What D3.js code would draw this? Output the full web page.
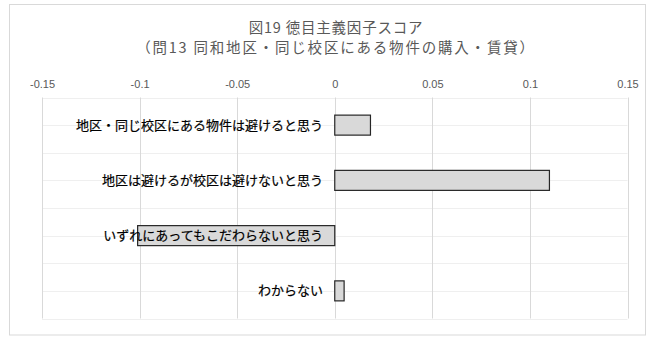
<!DOCTYPE html>
<html>
<head>
<meta charset="utf-8">
<script src="https://cdn.jsdelivr.net/npm/d3@7"></script>
<style>
  html, body { margin: 0; padding: 0; background: #fff; }
  svg { display: block; }
</style>
</head>
<body>
<svg id="chart" width="653" height="338"></svg>
<script>
// Factor score by response category
const categories = [
  "地区・同じ校区にある物件は避けると思う",
  "地区は避けるが校区は避けないと思う",
  "いずれにあってもこだわらないと思う",
  "わからない"
];
const scores = [0.0183, 0.110, -0.101, 0.0048];
const tickValues = [-0.15, -0.1, -0.05, 0, 0.05, 0.1, 0.15];
const titleLines = ["図19 徳目主義因子スコア", "（問13 同和地区・同じ校区にある物件の購入・賃貸）"];

const svg = d3.select("#chart");
const plot = { left: 42, right: 627.5, top: 97.5, bottom: 318.5 };
const jp = "'Noto Sans CJK JP', 'Noto Sans', sans-serif";

// Chart frame
svg.append("rect")
  .attr("x", 9.5).attr("y", 4.5)
  .attr("width", 636).attr("height", 330.5)
  .attr("fill", "#fff").attr("stroke", "#d9d9d9").attr("stroke-width", 1);

const x = d3.scaleLinear().domain([-0.15, 0.15]).range([plot.left, plot.right]);
const y = d3.scaleBand().domain(categories).range([plot.top, plot.bottom]).paddingInner(0).paddingOuter(0);

// Horizontal guide lines at band edges and centers
const hLines = [];
categories.forEach(c => {
  hLines.push(y(c));
  hLines.push(y(c) + y.bandwidth() / 2);
});
hLines.push(plot.bottom);
svg.append("g").selectAll("line").data(hLines).join("line")
  .attr("x1", plot.left).attr("x2", plot.right)
  .attr("y1", d => Math.round(d) + 0.5).attr("y2", d => Math.round(d) + 0.5)
  .attr("stroke", "#efefef").attr("stroke-width", 1);

// Vertical gridlines
svg.append("g").selectAll("line").data(tickValues).join("line")
  .attr("x1", d => Math.round(x(d)) + 0.5).attr("x2", d => Math.round(x(d)) + 0.5)
  .attr("y1", plot.top).attr("y2", plot.bottom)
  .attr("stroke", "#d9d9d9").attr("stroke-width", 1);

// Value axis labels along the top
const axis = d3.axisTop(x).tickValues(tickValues).tickSize(0).tickPadding(0)
  .tickFormat(d => d === 0 ? "0" : String(+d.toFixed(2)));
const gAxis = svg.append("g").attr("transform", `translate(0, 88)`).call(axis);
gAxis.select(".domain").remove();
gAxis.selectAll("text")
  .attr("fill", "#595959")
  .style("font-family", "'Liberation Sans', Arial, sans-serif")
  .style("font-size", "11px");

// Bars
const barH = 20;
svg.append("g").selectAll("rect").data(scores).join("rect")
  .attr("x", d => x(Math.min(0, d)))
  .attr("y", (d, i) => y(categories[i]) + y.bandwidth() / 2 - barH / 2)
  .attr("width", d => Math.abs(x(d) - x(0)))
  .attr("height", barH)
  .attr("fill", "#d9d9d9")
  .attr("stroke", "#262626")
  .attr("stroke-width", 1.2);

// Category labels
svg.append("g").selectAll("text").data(categories).join("text")
  .attr("x", 323)
  .attr("y", d => y(d) + y.bandwidth() / 2)
  .attr("dy", "0.35em")
  .attr("text-anchor", "end")
  .attr("fill", "#000")
  .attr("stroke", "#000")
  .attr("stroke-width", 0.2)
  .style("font-family", jp)
  .style("font-size", "13px")
  .text(d => d);

// Title
const titleSpacing = [0.8, 1.8];
svg.append("g").selectAll("text").data(titleLines).join("text")
  .attr("x", 336)
  .attr("y", (d, i) => 28 + i * 19.5)
  .attr("dy", "0.35em")
  .attr("text-anchor", "middle")
  .attr("fill", "#595959")
  .style("font-family", jp)
  .style("font-size", "14.5px")
  .style("letter-spacing", (d, i) => titleSpacing[i] + "px")
  .text(d => d);
</script>
</body>
</html>
